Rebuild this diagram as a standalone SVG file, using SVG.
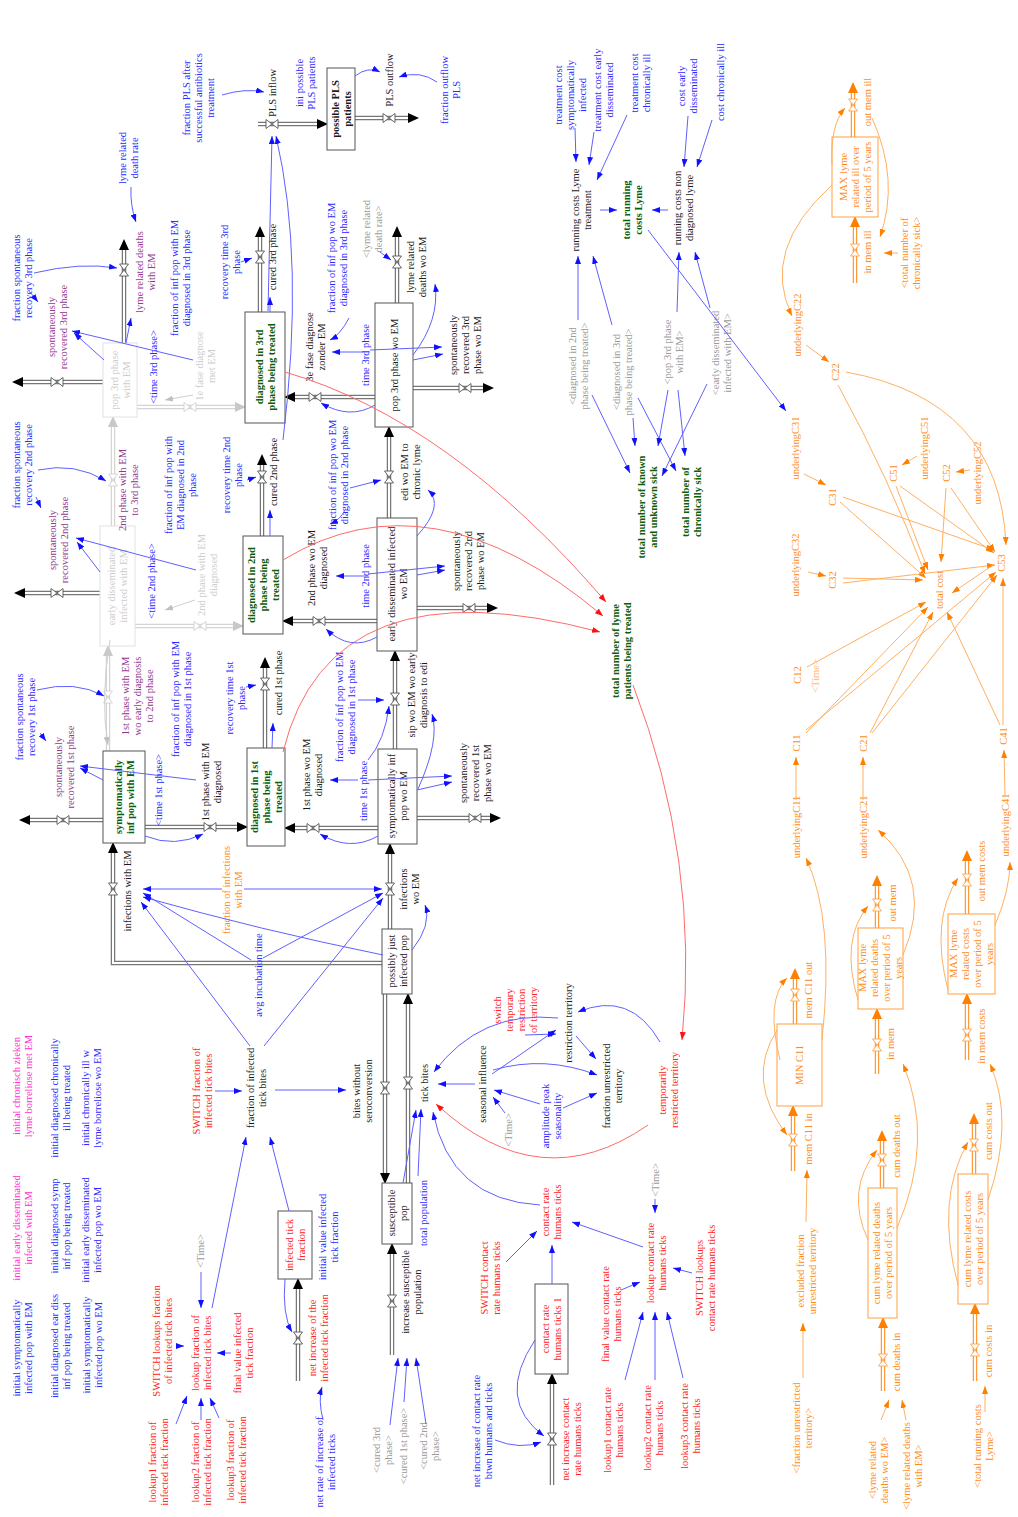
<svg xmlns="http://www.w3.org/2000/svg" xmlns:xlink="http://www.w3.org/1999/xlink" width="1018" height="1517" viewBox="0 0 1018 1517">
<style>
text{font-family:"Liberation Serif","Times New Roman",serif;font-size:10.5px;text-anchor:middle}
.b{fill:#2a2aff}.k{fill:#1a1a1a}.p{fill:#8f3a8f}.m{fill:#ff30d0}.g{fill:#0b5e0b;font-weight:bold}.r{fill:#ff2222}.o{fill:#ff8c1a}.y{fill:#9a9a9a}.l{fill:#cdcdcd}.bd{font-weight:bold}
.box{fill:#fff;stroke:#555;stroke-width:1}
.boxo{fill:#fff;stroke:#ffa040;stroke-width:1}
.boxl{fill:#fff;stroke:#e2e2e2;stroke-width:1}
.cb{fill:none;stroke:#6060ff;stroke-width:1;marker-end:url(#ab)}
.cr{fill:none;stroke:#ff6a6a;stroke-width:1;marker-end:url(#ar)}
.co{fill:none;stroke:#ffb060;stroke-width:1;marker-end:url(#ao)}
.cg{fill:none;stroke:#cfcfcf;stroke-width:1;marker-end:url(#ag)}
.po{fill:none;stroke:#777;stroke-width:4.5}
.pi{fill:none;stroke:#fff;stroke-width:2;marker-end:url(#pa)}
.poo{fill:none;stroke:#ff9a3a;stroke-width:4.5}
.pio{fill:none;stroke:#fff;stroke-width:2;marker-end:url(#pao)}
.pol{fill:none;stroke:#d4d4d4;stroke-width:4.5}
.pil{fill:none;stroke:#fff;stroke-width:2;marker-end:url(#pal)}
</style>
<defs>
<marker id="ab" viewBox="0 0 8 6" refX="8" refY="3" markerWidth="8" markerHeight="6" markerUnits="userSpaceOnUse" orient="auto"><path d="M0,0L8,3L0,6z" fill="#1010ff"/></marker>
<marker id="ar" viewBox="0 0 8 6" refX="8" refY="3" markerWidth="8" markerHeight="6" markerUnits="userSpaceOnUse" orient="auto"><path d="M0,0L8,3L0,6z" fill="#ff1010"/></marker>
<marker id="ao" viewBox="0 0 8 6" refX="8" refY="3" markerWidth="8" markerHeight="6" markerUnits="userSpaceOnUse" orient="auto"><path d="M0,0L8,3L0,6z" fill="#ff8000"/></marker>
<marker id="ag" viewBox="0 0 8 6" refX="8" refY="3" markerWidth="8" markerHeight="6" markerUnits="userSpaceOnUse" orient="auto"><path d="M0,0L8,3L0,6z" fill="#c0c0c0"/></marker>
<marker id="pa" viewBox="0 0 11 10" refX="0" refY="5" markerWidth="11" markerHeight="10" markerUnits="userSpaceOnUse" orient="auto"><path d="M0,0L11,5L0,10z" fill="#000"/></marker>
<marker id="pao" viewBox="0 0 11 10" refX="0" refY="5" markerWidth="11" markerHeight="10" markerUnits="userSpaceOnUse" orient="auto"><path d="M0,0L11,5L0,10z" fill="#ff8000"/></marker>
<marker id="pal" viewBox="0 0 11 10" refX="0" refY="5" markerWidth="11" markerHeight="10" markerUnits="userSpaceOnUse" orient="auto"><path d="M0,0L11,5L0,10z" fill="#c8c8c8"/></marker>
<g id="vv"><path d="M-4.5,-6H4.5L-4.5,6H4.5Z" fill="#fff" stroke="#444" stroke-width="0.8"/></g>
<g id="vh"><path d="M-6,-4.5V4.5L6,-4.5V4.5Z" fill="#fff" stroke="#444" stroke-width="0.8"/></g>
<g id="vvo"><path d="M-4.5,-6H4.5L-4.5,6H4.5Z" fill="#fff" stroke="#ff9a3a" stroke-width="0.8"/></g>
<g id="vvl"><path d="M-4.5,-6H4.5L-4.5,6H4.5Z" fill="#fff" stroke="#ccc" stroke-width="0.8"/></g>
<g id="vhl"><path d="M-6,-4.5V4.5L6,-4.5V4.5Z" fill="#fff" stroke="#ccc" stroke-width="0.8"/></g>
</defs>
<rect width="1018" height="1517" fill="#fff"/>

<g id="pipes">
<path class="po" d="M258,124L317,124"/><path class="pi" d="M258,124L317,124"/>
<path class="po" d="M355,118L408,118"/><path class="pi" d="M355,118L408,118"/>
<path class="po" d="M124,343L124,250"/><path class="pi" d="M124,343L124,250"/>
<path class="po" d="M103,382L23,382"/><path class="pi" d="M103,382L23,382"/>
<path class="po" d="M260,312L260,237"/><path class="pi" d="M260,312L260,237"/>
<path class="po" d="M375,397L295,397"/><path class="pi" d="M375,397L295,397"/>
<path class="po" d="M397,303L397,237"/><path class="pi" d="M397,303L397,237"/>
<path class="po" d="M413,388L483,388"/><path class="pi" d="M413,388L483,388"/>
<path class="po" d="M389,518L389,437"/><path class="pi" d="M389,518L389,437"/>
<path class="pol" d="M137,407L235,407"/><path class="pil" d="M137,407L235,407"/>
<path class="pol" d="M113,526L113,427"/><path class="pil" d="M113,526L113,427"/>
<path class="po" d="M100,593L25,593"/><path class="pi" d="M100,593L25,593"/>
<path class="po" d="M262,536L262,465"/><path class="pi" d="M262,536L262,465"/>
<path class="pol" d="M135,626L233,626"/><path class="pil" d="M135,626L233,626"/>
<path class="po" d="M377,621L293,621"/><path class="pi" d="M377,621L293,621"/>
<path class="po" d="M417,608L487,608"/><path class="pi" d="M417,608L487,608"/>
<path class="po" d="M395,749L395,661"/><path class="pi" d="M395,749L395,661"/>
<path class="pol" d="M108,751L108,656"/><path class="pil" d="M108,751L108,656"/>
<path class="po" d="M103,820L30,820"/><path class="pi" d="M103,820L30,820"/>
<path class="po" d="M265,748L265,668"/><path class="pi" d="M265,748L265,668"/>
<path class="po" d="M145,827L237,827"/><path class="pi" d="M145,827L237,827"/>
<path class="po" d="M378,828L295,828"/><path class="pi" d="M378,828L295,828"/>
<path class="po" d="M417,818L490,818"/><path class="pi" d="M417,818L490,818"/>
<path class="po" d="M383,963L113,963L113,853"/><path class="pi" d="M383,963L113,963L113,853"/>
<path class="po" d="M390,929L390,854"/><path class="pi" d="M390,929L390,854"/>
<path class="po" d="M385,994L385,1173"/><path class="pi" d="M385,994L385,1173"/>
<path class="po" d="M408,1183L408,1004"/><path class="pi" d="M408,1183L408,1004"/>
<path class="po" d="M392,1355L392,1254"/><path class="pi" d="M392,1355L392,1254"/>
<path class="po" d="M298,1381L298,1289"/><path class="pi" d="M298,1381L298,1289"/>
<path class="po" d="M552,1485L552,1384"/><path class="pi" d="M552,1485L552,1384"/>
<path class="poo" d="M855,283L855,227"/><path class="pio" d="M855,283L855,227"/>
<path class="poo" d="M853,137L853,93"/><path class="pio" d="M853,137L853,93"/>
<path class="poo" d="M793,1171L793,1116"/><path class="pio" d="M793,1171L793,1116"/>
<path class="poo" d="M795,1024L795,979"/><path class="pio" d="M795,1024L795,979"/>
<path class="poo" d="M877,1074L877,1019"/><path class="pio" d="M877,1074L877,1019"/>
<path class="poo" d="M877,928L877,886"/><path class="pio" d="M877,928L877,886"/>
<path class="poo" d="M882,1188L882,1141"/><path class="pio" d="M882,1188L882,1141"/>
<path class="poo" d="M883,1391L883,1328"/><path class="pio" d="M883,1391L883,1328"/>
<path class="poo" d="M967,1060L967,1004"/><path class="pio" d="M967,1060L967,1004"/>
<path class="poo" d="M967,914L967,861"/><path class="pio" d="M967,914L967,861"/>
<path class="poo" d="M974,1174L974,1124"/><path class="pio" d="M974,1174L974,1124"/>
<path class="poo" d="M975,1381L975,1314"/><path class="pio" d="M975,1381L975,1314"/>
</g>

<!-- stocks -->
<g id="s-pls"><rect class="box" x="327" y="68" width="28" height="82"/><text class="k bd" transform="translate(341,109) rotate(-90)"><tspan x="0" y="-2">possible PLS</tspan><tspan x="0" y="10">patients</tspan></text></g>
<g id="s-diag3"><rect class="box" x="245" y="312" width="40" height="111"/><text class="g" transform="translate(265,367) rotate(-90)"><tspan x="0" y="-2">diagnosed in 3rd</tspan><tspan x="0" y="10">phase being treated</tspan></text></g>
<g id="s-pop3we"><rect class="boxl" x="103" y="343" width="34" height="74"/><text class="l" transform="translate(120,380) rotate(-90)"><tspan x="0" y="-2">pop 3rd phase</tspan><tspan x="0" y="10">with EM</tspan></text></g>
<g id="s-pop3wo"><rect class="box" x="375" y="303" width="38" height="124"/><text class="k" transform="translate(394,365) rotate(-90)"><tspan x="0" y="4">pop 3rd phase wo EM</tspan></text></g>
<g id="s-edwe"><rect class="boxl" x="100" y="526" width="35" height="120"/><text class="l" transform="translate(117,586) rotate(-90)"><tspan x="0" y="-2">early disseminated</tspan><tspan x="0" y="10">infected with EM</tspan></text></g>
<g id="s-diag2"><rect class="box" x="243" y="536" width="40" height="98"/><text class="g" transform="translate(263,585) rotate(-90)"><tspan x="0" y="-8">diagnosed in 2nd</tspan><tspan x="0" y="4">phase being</tspan><tspan x="0" y="16">treated</tspan></text></g>
<g id="s-edwo"><rect class="box" x="377" y="518" width="40" height="133"/><text class="k" transform="translate(397,584) rotate(-90)"><tspan x="0" y="-2">early disseminated infected</tspan><tspan x="0" y="10">wo EM</tspan></text></g>
<g id="s-sipwe"><rect class="box" x="103" y="751" width="42" height="92"/><text class="g" transform="translate(124,797) rotate(-90)"><tspan x="0" y="-2">symptomatically</tspan><tspan x="0" y="10">inf pop with EM</tspan></text></g>
<g id="s-diag1"><rect class="box" x="247" y="748" width="38" height="98"/><text class="g" transform="translate(266,797) rotate(-90)"><tspan x="0" y="-8">diagnosed in 1st</tspan><tspan x="0" y="4">phase being</tspan><tspan x="0" y="16">treated</tspan></text></g>
<g id="s-sipwo"><rect class="box" x="378" y="749" width="39" height="95"/><text class="k" transform="translate(397,796) rotate(-90)"><tspan x="0" y="-2">symptomatically inf</tspan><tspan x="0" y="10">pop wo EM</tspan></text></g>
<g id="s-pjip"><rect class="box" x="382" y="929" width="30" height="65"/><text class="k" transform="translate(397,961) rotate(-90)"><tspan x="0" y="-2">possibly just</tspan><tspan x="0" y="10">infected pop</tspan></text></g>
<g id="s-susc"><rect class="box" x="382" y="1183" width="30" height="61"/><text class="k" transform="translate(397,1213) rotate(-90)"><tspan x="0" y="-2">susceptible</tspan><tspan x="0" y="10">pop</tspan></text></g>
<g id="s-itf"><rect class="box" x="278" y="1211" width="34" height="68"/><text class="r" transform="translate(295,1245) rotate(-90)"><tspan x="0" y="-2">infected tick</tspan><tspan x="0" y="10">fraction</tspan></text></g>
<g id="s-cr1"><rect class="box" x="535" y="1284" width="33" height="90"/><text class="r" transform="translate(551,1329) rotate(-90)"><tspan x="0" y="-2">contact rate</tspan><tspan x="0" y="10">humans ticks 1</tspan></text></g>
<g id="s-maxill"><rect class="boxo" x="832" y="137" width="46" height="80"/><text class="o" transform="translate(855,177) rotate(-90)"><tspan x="0" y="-8">MAX lyme</tspan><tspan x="0" y="4">related ill over</tspan><tspan x="0" y="16">period of 5 years</tspan></text></g>
<g id="s-maxd"><rect class="boxo" x="858" y="928" width="45" height="81"/><text class="o" transform="translate(880,968) rotate(-90)"><tspan x="0" y="-14">MAX lyme</tspan><tspan x="0" y="-2">related deaths</tspan><tspan x="0" y="10">over period of 5</tspan><tspan x="0" y="22">years</tspan></text></g>
<g id="s-maxc"><rect class="boxo" x="948" y="914" width="47" height="80"/><text class="o" transform="translate(971,954) rotate(-90)"><tspan x="0" y="-14">MAX lyme</tspan><tspan x="0" y="-2">related costs</tspan><tspan x="0" y="10">over period of 5</tspan><tspan x="0" y="22">years</tspan></text></g>
<g id="s-minc11"><rect class="boxo" x="777" y="1024" width="45" height="82"/><text class="o" transform="translate(799,1065) rotate(-90)"><tspan x="0" y="4">MIN C11</tspan></text></g>
<g id="s-cumd"><rect class="boxo" x="868" y="1188" width="29" height="130"/><text class="o" transform="translate(882,1253) rotate(-90)"><tspan x="0" y="-2">cum lyme related deaths</tspan><tspan x="0" y="10">over period of 5 years</tspan></text></g>
<g id="s-cumc"><rect class="boxo" x="958" y="1174" width="30" height="130"/><text class="o" transform="translate(973,1239) rotate(-90)"><tspan x="0" y="-2">cum lyme related costs</tspan><tspan x="0" y="10">over period of 5 years</tspan></text></g>

<!-- flows: valves + labels -->
<g id="f-plsin"><use xlink:href="#vh" x="272" y="124"/><text class="k" transform="translate(272,93) rotate(-90)"><tspan x="0" y="4">PLS inflow</tspan></text></g>
<g id="f-plsout"><use xlink:href="#vh" x="389" y="118"/><text class="k" transform="translate(389,80) rotate(-90)"><tspan x="0" y="4">PLS outflow</tspan></text></g>
<g id="f-ldwe"><use xlink:href="#vv" x="124" y="270"/><text class="p" transform="translate(145,272) rotate(-90)"><tspan x="0" y="-2">lyme related deaths</tspan><tspan x="0" y="10">with EM</tspan></text></g>
<g id="f-sr3"><use xlink:href="#vh" x="57" y="382"/><text class="p" transform="translate(57,327) rotate(-90)"><tspan x="0" y="-2">spontaneously</tspan><tspan x="0" y="10">recovered 3rd phase</tspan></text></g>
<g id="f-1e"><use xlink:href="#vhl" x="190" y="407"/><text class="l" transform="translate(205,366) rotate(-90)"><tspan x="0" y="-2">1e fase diagnose</tspan><tspan x="0" y="10">met EM</tspan></text></g>
<g id="f-c3"><use xlink:href="#vv" x="260" y="257"/><text class="k" transform="translate(272,257) rotate(-90)"><tspan x="0" y="4">cured 3rd phase</tspan></text></g>
<g id="f-3e"><use xlink:href="#vh" x="315" y="397"/><text class="k" transform="translate(315,347) rotate(-90)"><tspan x="0" y="-2">3e fase diagnose</tspan><tspan x="0" y="10">zonder EM</tspan></text></g>
<g id="f-ldwo"><use xlink:href="#vv" x="397" y="262"/><text class="k" transform="translate(416,267) rotate(-90)"><tspan x="0" y="-2">lyme related</tspan><tspan x="0" y="10">deaths wo EM</tspan></text></g>
<g id="f-sr3wo"><use xlink:href="#vh" x="465" y="388"/><text class="k" transform="translate(465,345) rotate(-90)"><tspan x="0" y="-8">spontaneously</tspan><tspan x="0" y="4">recovered 3rd</tspan><tspan x="0" y="16">phase wo EM</tspan></text></g>
<g id="f-edi"><use xlink:href="#vv" x="389" y="477"/><text class="k" transform="translate(410,472) rotate(-90)"><tspan x="0" y="-2">edi wo EM to</tspan><tspan x="0" y="10">chronic lyme</tspan></text></g>
<g id="f-2to3"><use xlink:href="#vvl" x="113" y="480"/><text class="p" transform="translate(128,490) rotate(-90)"><tspan x="0" y="-2">2nd phase with EM</tspan><tspan x="0" y="10">to 3rd phase</tspan></text></g>
<g id="f-sr2"><use xlink:href="#vh" x="57" y="593"/><text class="p" transform="translate(58,540) rotate(-90)"><tspan x="0" y="-2">spontaneously</tspan><tspan x="0" y="10">recovered 2nd phase</tspan></text></g>
<g id="f-c2"><use xlink:href="#vv" x="262" y="477"/><text class="k" transform="translate(273,472) rotate(-90)"><tspan x="0" y="4">cured 2nd phase</tspan></text></g>
<g id="f-2d"><use xlink:href="#vhl" x="200" y="626"/><text class="l" transform="translate(207,575) rotate(-90)"><tspan x="0" y="-2">2nd phase with EM</tspan><tspan x="0" y="10">diagnosed</tspan></text></g>
<g id="f-2wo"><use xlink:href="#vh" x="319" y="621"/><text class="k" transform="translate(317,568) rotate(-90)"><tspan x="0" y="-2">2nd phase wo EM</tspan><tspan x="0" y="10">diagnosed</tspan></text></g>
<g id="f-sr2wo"><use xlink:href="#vh" x="469" y="608"/><text class="k" transform="translate(468,561) rotate(-90)"><tspan x="0" y="-8">spontaneously</tspan><tspan x="0" y="4">recovered 2nd</tspan><tspan x="0" y="16">phase wo EM</tspan></text></g>
<g id="f-sip"><use xlink:href="#vv" x="395" y="699"/><text class="k" transform="translate(417,695) rotate(-90)"><tspan x="0" y="-2">sip wo EM wo early</tspan><tspan x="0" y="10">diagnosis to edi</tspan></text></g>
<g id="f-1to2"><use xlink:href="#vvl" x="108" y="697"/><text class="p" transform="translate(137,696) rotate(-90)"><tspan x="0" y="-8">1st phase with EM</tspan><tspan x="0" y="4">wo early diagnosis</tspan><tspan x="0" y="16">to 2nd phase</tspan></text></g>
<g id="f-sr1"><use xlink:href="#vh" x="63" y="820"/><text class="p" transform="translate(64,767) rotate(-90)"><tspan x="0" y="-2">spontaneously</tspan><tspan x="0" y="10">recovered 1st phase</tspan></text></g>
<g id="f-c1"><use xlink:href="#vv" x="265" y="684"/><text class="k" transform="translate(278,683) rotate(-90)"><tspan x="0" y="4">cured 1st phase</tspan></text></g>
<g id="f-1d"><use xlink:href="#vh" x="210" y="827"/><text class="k" transform="translate(211,782) rotate(-90)"><tspan x="0" y="-2">1st phase with EM</tspan><tspan x="0" y="10">diagnosed</tspan></text></g>
<g id="f-1wo"><use xlink:href="#vh" x="313" y="828"/><text class="k" transform="translate(312,775) rotate(-90)"><tspan x="0" y="-2">1st phase wo EM</tspan><tspan x="0" y="10">diagnosed</tspan></text></g>
<g id="f-sr1wo"><use xlink:href="#vh" x="475" y="818"/><text class="k" transform="translate(475,773) rotate(-90)"><tspan x="0" y="-8">spontaneously</tspan><tspan x="0" y="4">recovered 1st</tspan><tspan x="0" y="16">phase wo EM</tspan></text></g>
<g id="f-iwe"><use xlink:href="#vv" x="113" y="889"/><text class="k" transform="translate(127,891) rotate(-90)"><tspan x="0" y="4">infections with EM</tspan></text></g>
<g id="f-iwo"><use xlink:href="#vv" x="390" y="889"/><text class="k" transform="translate(409,889) rotate(-90)"><tspan x="0" y="-2">infections</tspan><tspan x="0" y="10">wo EM</tspan></text></g>
<g id="f-bws"><use xlink:href="#vv" x="385" y="1088"/><text class="k" transform="translate(362,1091) rotate(-90)"><tspan x="0" y="-2">bites without</tspan><tspan x="0" y="10">seroconversion</tspan></text></g>
<g id="f-tb"><use xlink:href="#vv" x="408" y="1083"/><text class="k" transform="translate(424,1083) rotate(-90)"><tspan x="0" y="4">tick bites</tspan></text></g>
<g id="f-isp"><use xlink:href="#vv" x="392" y="1301"/><text class="k" transform="translate(411,1292) rotate(-90)"><tspan x="0" y="-2">increase susceptible</tspan><tspan x="0" y="10">population</tspan></text></g>
<g id="f-nitf"><use xlink:href="#vv" x="298" y="1338"/><text class="r" transform="translate(318,1338) rotate(-90)"><tspan x="0" y="-2">net increase of the</tspan><tspan x="0" y="10">infected tick fraction</tspan></text></g>
<g id="f-nicr"><use xlink:href="#vv" x="552" y="1439"/><text class="r" transform="translate(571,1439) rotate(-90)"><tspan x="0" y="-2">net increase contact</tspan><tspan x="0" y="10">rate humans ticks</tspan></text></g>
<g id="f-imi"><use xlink:href="#vvo" x="855" y="250"/><text class="o" transform="translate(867,252) rotate(-90)"><tspan x="0" y="4">in mem ill</tspan></text></g>
<g id="f-omi"><use xlink:href="#vvo" x="853" y="105"/><text class="o" transform="translate(867,102) rotate(-90)"><tspan x="0" y="4">out mem ill</tspan></text></g>
<g id="f-mci"><use xlink:href="#vvo" x="793" y="1140"/><text class="o" transform="translate(808,1139) rotate(-90)"><tspan x="0" y="4">mem C11 in</tspan></text></g>
<g id="f-mco"><use xlink:href="#vvo" x="795" y="995"/><text class="o" transform="translate(808,990) rotate(-90)"><tspan x="0" y="4">mem C11 out</tspan></text></g>
<g id="f-im"><use xlink:href="#vvo" x="877" y="1045"/><text class="o" transform="translate(890,1044) rotate(-90)"><tspan x="0" y="4">in mem</tspan></text></g>
<g id="f-om"><use xlink:href="#vvo" x="877" y="905"/><text class="o" transform="translate(892,903) rotate(-90)"><tspan x="0" y="4">out mem</tspan></text></g>
<g id="f-cdo"><use xlink:href="#vvo" x="882" y="1160"/><text class="o" transform="translate(896,1146) rotate(-90)"><tspan x="0" y="4">cum deaths out</tspan></text></g>
<g id="f-cdi"><use xlink:href="#vvo" x="883" y="1360"/><text class="o" transform="translate(896,1362) rotate(-90)"><tspan x="0" y="4">cum deaths in</tspan></text></g>
<g id="f-imc"><use xlink:href="#vvo" x="967" y="1035"/><text class="o" transform="translate(981,1036) rotate(-90)"><tspan x="0" y="4">in mem costs</tspan></text></g>
<g id="f-omc"><use xlink:href="#vvo" x="967" y="880"/><text class="o" transform="translate(981,871) rotate(-90)"><tspan x="0" y="4">out mem costs</tspan></text></g>
<g id="f-cco"><use xlink:href="#vvo" x="974" y="1145"/><text class="o" transform="translate(988,1131) rotate(-90)"><tspan x="0" y="4">cum costs out</tspan></text></g>
<g id="f-cci"><use xlink:href="#vvo" x="975" y="1350"/><text class="o" transform="translate(988,1351) rotate(-90)"><tspan x="0" y="4">cum costs in</tspan></text></g>

<!-- auxiliaries -->
<g id="n-fplsa"><text class="b" transform="translate(198,98) rotate(-90)"><tspan x="0" y="-8">fraction PLS after</tspan><tspan x="0" y="4">successful antibiotics</tspan><tspan x="0" y="16">treatment</tspan></text></g>
<g id="n-inipls"><text class="b" transform="translate(305,83) rotate(-90)"><tspan x="0" y="-2">ini possible</tspan><tspan x="0" y="10">PLS patients</tspan></text></g>
<g id="n-fopls"><text class="b" transform="translate(450,90) rotate(-90)"><tspan x="0" y="-2">fraction outflow</tspan><tspan x="0" y="10">PLS</tspan></text></g>
<g id="n-lrdr"><text class="b" transform="translate(128,158) rotate(-90)"><tspan x="0" y="-2">lyme related</tspan><tspan x="0" y="10">death rate</tspan></text></g>
<g id="n-fsr3"><text class="b" transform="translate(22,278) rotate(-90)"><tspan x="0" y="-2">fraction spontaneous</tspan><tspan x="0" y="10">recovery 3rd phase</tspan></text></g>
<g id="n-t3p"><text class="b" transform="translate(153,367) rotate(-90)"><tspan x="0" y="4">&lt;time 3rd phase&gt;</tspan></text></g>
<g id="n-fipe3"><text class="b" transform="translate(180,278) rotate(-90)"><tspan x="0" y="-2">fraction of inf pop with EM</tspan><tspan x="0" y="10">diagnosed in 3rd phase</tspan></text></g>
<g id="n-rt3"><text class="b" transform="translate(230,262) rotate(-90)"><tspan x="0" y="-2">recovery time 3rd</tspan><tspan x="0" y="10">phase</tspan></text></g>
<g id="n-fipw3"><text class="b" transform="translate(337,258) rotate(-90)"><tspan x="0" y="-2">fraction of inf pop wo EM</tspan><tspan x="0" y="10">diagnosed in 3rd phase</tspan></text></g>
<g id="n-lrdrg"><text class="y" transform="translate(372,229) rotate(-90)"><tspan x="0" y="-2">&lt;lyme related</tspan><tspan x="0" y="10">death rate&gt;</tspan></text></g>
<g id="n-time3"><text class="b" transform="translate(365,355) rotate(-90)"><tspan x="0" y="4">time 3rd phase</tspan></text></g>
<g id="n-tcsi"><text class="b" transform="translate(570,95) rotate(-90)"><tspan x="0" y="-8">treatment cost</tspan><tspan x="0" y="4">symptomatically</tspan><tspan x="0" y="16">infected</tspan></text></g>
<g id="n-tced"><text class="b" transform="translate(603,90) rotate(-90)"><tspan x="0" y="-2">treatment cost early</tspan><tspan x="0" y="10">disseminated</tspan></text></g>
<g id="n-tcci"><text class="b" transform="translate(640,83) rotate(-90)"><tspan x="0" y="-2">treatment cost</tspan><tspan x="0" y="10">chronically ill</tspan></text></g>
<g id="n-rclt"><text class="k" transform="translate(581,210) rotate(-90)"><tspan x="0" y="-2">running costs Lyme</tspan><tspan x="0" y="10">treatment</tspan></text></g>
<g id="n-trcl"><text class="g" transform="translate(632,210) rotate(-90)"><tspan x="0" y="-2">total running</tspan><tspan x="0" y="10">costs Lyme</tspan></text></g>
<g id="n-rcnd"><text class="k" transform="translate(683,208) rotate(-90)"><tspan x="0" y="-2">running costs non</tspan><tspan x="0" y="10">diagnosed lyme</tspan></text></g>
<g id="n-ced"><text class="b" transform="translate(687,86) rotate(-90)"><tspan x="0" y="-2">cost early</tspan><tspan x="0" y="10">disseminated</tspan></text></g>
<g id="n-cci"><text class="b" transform="translate(720,82) rotate(-90)"><tspan x="0" y="4">cost chronically ill</tspan></text></g>
<g id="n-d2g"><text class="y" transform="translate(578,366) rotate(-90)"><tspan x="0" y="-2">&lt;diagnosed in 2nd</tspan><tspan x="0" y="10">phase being treated&gt;</tspan></text></g>
<g id="n-d3g"><text class="y" transform="translate(622,372) rotate(-90)"><tspan x="0" y="-2">&lt;diagnosed in 3rd</tspan><tspan x="0" y="10">phase being treated&gt;</tspan></text></g>
<g id="n-p3g"><text class="y" transform="translate(673,352) rotate(-90)"><tspan x="0" y="-2">&lt;pop 3rd phase</tspan><tspan x="0" y="10">with EM&gt;</tspan></text></g>
<g id="n-edg"><text class="y" transform="translate(721,353) rotate(-90)"><tspan x="0" y="-2">&lt;early disseminated</tspan><tspan x="0" y="10">infected with EM&gt;</tspan></text></g>
<g id="n-tkus"><text class="g" transform="translate(647,507) rotate(-90)"><tspan x="0" y="-2">total number of known</tspan><tspan x="0" y="10">and unknown sick</tspan></text></g>
<g id="n-tcs"><text class="g" transform="translate(691,502) rotate(-90)"><tspan x="0" y="-2">total number of</tspan><tspan x="0" y="10">chronically sick</tspan></text></g>
<g id="n-tlpt"><text class="g" transform="translate(621,651) rotate(-90)"><tspan x="0" y="-2">total number of lyme</tspan><tspan x="0" y="10">patients being treated</tspan></text></g>
<g id="n-fsr2"><text class="b" transform="translate(22,465) rotate(-90)"><tspan x="0" y="-2">fraction spontaneous</tspan><tspan x="0" y="10">recovery 2nd phase</tspan></text></g>
<g id="n-t2p"><text class="b" transform="translate(151,581) rotate(-90)"><tspan x="0" y="4">&lt;time 2nd phase&gt;</tspan></text></g>
<g id="n-fipe2"><text class="b" transform="translate(180,485) rotate(-90)"><tspan x="0" y="-8">fraction of inf pop with</tspan><tspan x="0" y="4">EM diagnosed in 2nd</tspan><tspan x="0" y="16">phase</tspan></text></g>
<g id="n-rt2"><text class="b" transform="translate(232,475) rotate(-90)"><tspan x="0" y="-2">recovery time 2nd</tspan><tspan x="0" y="10">phase</tspan></text></g>
<g id="n-fipw2"><text class="b" transform="translate(338,475) rotate(-90)"><tspan x="0" y="-2">fraction of inf pop wo EM</tspan><tspan x="0" y="10">diagnosed in 2nd phase</tspan></text></g>
<g id="n-time2"><text class="b" transform="translate(365,576) rotate(-90)"><tspan x="0" y="4">time 2nd phase</tspan></text></g>
<g id="n-fsr1"><text class="b" transform="translate(25,717) rotate(-90)"><tspan x="0" y="-2">fraction spontaneous</tspan><tspan x="0" y="10">recovery 1st phase</tspan></text></g>
<g id="n-t1p"><text class="b" transform="translate(158,790) rotate(-90)"><tspan x="0" y="4">&lt;time 1st phase&gt;</tspan></text></g>
<g id="n-fipe1"><text class="b" transform="translate(181,699) rotate(-90)"><tspan x="0" y="-2">fraction of inf pop with EM</tspan><tspan x="0" y="10">diagnosed in 1st phase</tspan></text></g>
<g id="n-rt1"><text class="b" transform="translate(235,698) rotate(-90)"><tspan x="0" y="-2">recovery time 1st</tspan><tspan x="0" y="10">phase</tspan></text></g>
<g id="n-fipw1"><text class="b" transform="translate(345,707) rotate(-90)"><tspan x="0" y="-2">fraction of inf pop wo EM</tspan><tspan x="0" y="10">diagnosed in 1st phase</tspan></text></g>
<g id="n-time1"><text class="b" transform="translate(363,791) rotate(-90)"><tspan x="0" y="4">time 1st phase</tspan></text></g>
<g id="n-fiwe"><text class="o" transform="translate(232,890) rotate(-90)"><tspan x="0" y="-2">fraction of infections</tspan><tspan x="0" y="10">with EM</tspan></text></g>
<g id="n-ait"><text class="b" transform="translate(258,975) rotate(-90)"><tspan x="0" y="4">avg incubation time</tspan></text></g>
<g id="n-sfitb"><text class="r" transform="translate(202,1091) rotate(-90)"><tspan x="0" y="-2">SWITCH fraction of</tspan><tspan x="0" y="10">infected tick bites</tspan></text></g>
<g id="n-fitb"><text class="k" transform="translate(256,1088) rotate(-90)"><tspan x="0" y="-2">fraction of infected</tspan><tspan x="0" y="10">tick bites</tspan></text></g>
<g id="n-si"><text class="k" transform="translate(482,1084) rotate(-90)"><tspan x="0" y="4">seasonal influence</tspan></text></g>
<g id="n-time-a"><text class="y" transform="translate(508,1130) rotate(-90)"><tspan x="0" y="4">&lt;Time&gt;</tspan></text></g>
<g id="n-aps"><text class="b" transform="translate(551,1116) rotate(-90)"><tspan x="0" y="-2">amplitude peak</tspan><tspan x="0" y="10">seasonality</tspan></text></g>
<g id="n-sttr"><text class="r" transform="translate(515,1010) rotate(-90)"><tspan x="0" y="-14">switch</tspan><tspan x="0" y="-2">temporary</tspan><tspan x="0" y="10">restriction</tspan><tspan x="0" y="22">of territory</tspan></text></g>
<g id="n-rt"><text class="k" transform="translate(568,1023) rotate(-90)"><tspan x="0" y="4">restriction territory</tspan></text></g>
<g id="n-fut"><text class="k" transform="translate(612,1086) rotate(-90)"><tspan x="0" y="-2">fraction unrestricted</tspan><tspan x="0" y="10">territory</tspan></text></g>
<g id="n-trt"><text class="r" transform="translate(668,1090) rotate(-90)"><tspan x="0" y="-2">temporarily</tspan><tspan x="0" y="10">restricted territory</tspan></text></g>
<g id="n-tp"><text class="b" transform="translate(423,1213) rotate(-90)"><tspan x="0" y="4">total population</tspan></text></g>
<g id="n-c3g"><text class="y" transform="translate(382,1450) rotate(-90)"><tspan x="0" y="-2">&lt;cured 3rd</tspan><tspan x="0" y="10">phase&gt;</tspan></text></g>
<g id="n-c1g"><text class="y" transform="translate(403,1446) rotate(-90)"><tspan x="0" y="4">&lt;cured 1st phase&gt;</tspan></text></g>
<g id="n-c2g"><text class="y" transform="translate(429,1446) rotate(-90)"><tspan x="0" y="-2">&lt;cured 2nd</tspan><tspan x="0" y="10">phase&gt;</tspan></text></g>
<g id="n-nrii"><text class="b" transform="translate(325,1462) rotate(-90)"><tspan x="0" y="-2">net rate of increase of</tspan><tspan x="0" y="10">infected ticks</tspan></text></g>
<g id="n-ivitf"><text class="b" transform="translate(328,1237) rotate(-90)"><tspan x="0" y="-2">initial value infected</tspan><tspan x="0" y="10">tick fraction</tspan></text></g>
<g id="n-scr"><text class="r" transform="translate(490,1278) rotate(-90)"><tspan x="0" y="-2">SWITCH contact</tspan><tspan x="0" y="10">rate humans ticks</tspan></text></g>
<g id="n-crht"><text class="r" transform="translate(551,1212) rotate(-90)"><tspan x="0" y="-2">contact rate</tspan><tspan x="0" y="10">humans ticks</tspan></text></g>
<g id="n-nicrb"><text class="b" transform="translate(482,1431) rotate(-90)"><tspan x="0" y="-2">net increase of contact rate</tspan><tspan x="0" y="10">btwn humans and ticks</tspan></text></g>
<g id="n-fvcr"><text class="r" transform="translate(611,1314) rotate(-90)"><tspan x="0" y="-2">final value contact rate</tspan><tspan x="0" y="10">humans ticks</tspan></text></g>
<g id="n-l1cr"><text class="r" transform="translate(613,1430) rotate(-90)"><tspan x="0" y="-2">lookup1 contact rate</tspan><tspan x="0" y="10">humans ticks</tspan></text></g>
<g id="n-l2cr"><text class="r" transform="translate(653,1428) rotate(-90)"><tspan x="0" y="-2">lookup2 contact rate</tspan><tspan x="0" y="10">humans ticks</tspan></text></g>
<g id="n-l3cr"><text class="r" transform="translate(690,1426) rotate(-90)"><tspan x="0" y="-2">lookup3 contact rate</tspan><tspan x="0" y="10">humans ticks</tspan></text></g>
<g id="n-lcr"><text class="r" transform="translate(656,1263) rotate(-90)"><tspan x="0" y="-2">lookup contact rate</tspan><tspan x="0" y="10">humans ticks</tspan></text></g>
<g id="n-time-b"><text class="y" transform="translate(655,1180) rotate(-90)"><tspan x="0" y="4">&lt;Time&gt;</tspan></text></g>
<g id="n-slcr"><text class="r" transform="translate(705,1278) rotate(-90)"><tspan x="0" y="-2">SWITCH lookups</tspan><tspan x="0" y="10">contact rate humans ticks</tspan></text></g>
<g id="n-i1"><text class="m" transform="translate(22,1086) rotate(-90)"><tspan x="0" y="-2">initial chronisch zieken</tspan><tspan x="0" y="10">lyme borreliose met EM</tspan></text></g>
<g id="n-i2"><text class="b" transform="translate(60,1098) rotate(-90)"><tspan x="0" y="-2">initial diagnosed chronically</tspan><tspan x="0" y="10">ill being treated</tspan></text></g>
<g id="n-i3"><text class="b" transform="translate(91,1098) rotate(-90)"><tspan x="0" y="-2">initial chronically ill w</tspan><tspan x="0" y="10">lyme borreliose wo EM</tspan></text></g>
<g id="n-i4"><text class="m" transform="translate(22,1228) rotate(-90)"><tspan x="0" y="-2">initial early disseminated</tspan><tspan x="0" y="10">infected with EM</tspan></text></g>
<g id="n-i5"><text class="b" transform="translate(60,1226) rotate(-90)"><tspan x="0" y="-2">initial diagnosed symp</tspan><tspan x="0" y="10">inf pop being treated</tspan></text></g>
<g id="n-i6"><text class="b" transform="translate(91,1230) rotate(-90)"><tspan x="0" y="-2">initial early disseminated</tspan><tspan x="0" y="10">infected pop wo EM</tspan></text></g>
<g id="n-i7"><text class="b" transform="translate(22,1348) rotate(-90)"><tspan x="0" y="-2">initial symptomatically</tspan><tspan x="0" y="10">infected pop with EM</tspan></text></g>
<g id="n-i8"><text class="b" transform="translate(60,1346) rotate(-90)"><tspan x="0" y="-2">initial diagnosed ear diss</tspan><tspan x="0" y="10">inf pop being treated</tspan></text></g>
<g id="n-i9"><text class="b" transform="translate(92,1345) rotate(-90)"><tspan x="0" y="-2">initial symptomatically</tspan><tspan x="0" y="10">infected pop wo EM</tspan></text></g>
<g id="n-slfitb"><text class="r" transform="translate(162,1341) rotate(-90)"><tspan x="0" y="-2">SWITCH lookups fraction</tspan><tspan x="0" y="10">of infected tick bites</tspan></text></g>
<g id="n-lfitb"><text class="r" transform="translate(201,1353) rotate(-90)"><tspan x="0" y="-2">lookup fraction of</tspan><tspan x="0" y="10">infected tick bites</tspan></text></g>
<g id="n-fvitf"><text class="r" transform="translate(243,1353) rotate(-90)"><tspan x="0" y="-2">final value infected</tspan><tspan x="0" y="10">tick fraction</tspan></text></g>
<g id="n-time-c"><text class="y" transform="translate(200,1251) rotate(-90)"><tspan x="0" y="4">&lt;Time&gt;</tspan></text></g>
<g id="n-l1f"><text class="r" transform="translate(158,1462) rotate(-90)"><tspan x="0" y="-2">lookup1 fraction of</tspan><tspan x="0" y="10">infected tick fraction</tspan></text></g>
<g id="n-l2f"><text class="r" transform="translate(201,1462) rotate(-90)"><tspan x="0" y="-2">lookup2 fraction of</tspan><tspan x="0" y="10">infected tick fraction</tspan></text></g>
<g id="n-l3f"><text class="r" transform="translate(236,1460) rotate(-90)"><tspan x="0" y="-2">lookup3 fraction of</tspan><tspan x="0" y="10">infected tick fraction</tspan></text></g>
<g id="n-tcsg"><text class="o" transform="translate(910,253) rotate(-90)"><tspan x="0" y="-2">&lt;total number of</tspan><tspan x="0" y="10">chronically sick&gt;</tspan></text></g>
<g id="n-u22"><text class="o" transform="translate(797,325) rotate(-90)"><tspan x="0" y="4">underlyingC22</tspan></text></g>
<g id="n-c22"><text class="o" transform="translate(835,372) rotate(-90)"><tspan x="0" y="4">C22</tspan></text></g>
<g id="n-u31"><text class="o" transform="translate(795,448) rotate(-90)"><tspan x="0" y="4">underlyingC31</tspan></text></g>
<g id="n-c31"><text class="o" transform="translate(832,497) rotate(-90)"><tspan x="0" y="4">C31</tspan></text></g>
<g id="n-c51"><text class="o" transform="translate(893,473) rotate(-90)"><tspan x="0" y="4">C51</tspan></text></g>
<g id="n-u51"><text class="o" transform="translate(924,448) rotate(-90)"><tspan x="0" y="4">underlyingC51</tspan></text></g>
<g id="n-c52"><text class="o" transform="translate(946,473) rotate(-90)"><tspan x="0" y="4">C52</tspan></text></g>
<g id="n-u52"><text class="o" transform="translate(977,473) rotate(-90)"><tspan x="0" y="4">underlyingC52</tspan></text></g>
<g id="n-u32"><text class="o" transform="translate(795,565) rotate(-90)"><tspan x="0" y="4">underlyingC32</tspan></text></g>
<g id="n-c32"><text class="o" transform="translate(832,580) rotate(-90)"><tspan x="0" y="4">C32</tspan></text></g>
<g id="n-tc"><text class="o" transform="translate(939,590) rotate(-90)"><tspan x="0" y="4">total cost</tspan></text></g>
<g id="n-c53"><text class="o" transform="translate(1001,563) rotate(-90)"><tspan x="0" y="4">C53</tspan></text></g>
<g id="n-c12"><text class="o" transform="translate(797,675) rotate(-90)"><tspan x="0" y="4">C12</tspan></text></g>
<g id="n-timeo"><text class="o" opacity="0.6" transform="translate(815,676) rotate(-90)"><tspan x="0" y="4">&lt;Time&gt;</tspan></text></g>
<g id="n-c11"><text class="o" transform="translate(796,743) rotate(-90)"><tspan x="0" y="4">C11</tspan></text></g>
<g id="n-u11"><text class="o" transform="translate(796,827) rotate(-90)"><tspan x="0" y="4">underlyingC11</tspan></text></g>
<g id="n-c21"><text class="o" transform="translate(863,743) rotate(-90)"><tspan x="0" y="4">C21</tspan></text></g>
<g id="n-u21"><text class="o" transform="translate(863,827) rotate(-90)"><tspan x="0" y="4">underlyingC21</tspan></text></g>
<g id="n-c41"><text class="o" transform="translate(1003,736) rotate(-90)"><tspan x="0" y="4">C41</tspan></text></g>
<g id="n-u41"><text class="o" transform="translate(1005,825) rotate(-90)"><tspan x="0" y="4">underlyingC41</tspan></text></g>
<g id="n-efut"><text class="o" transform="translate(806,1271) rotate(-90)"><tspan x="0" y="-2">excluded fraction</tspan><tspan x="0" y="10">unrestricted territory</tspan></text></g>
<g id="n-futg"><text class="o" transform="translate(802,1428) rotate(-90)"><tspan x="0" y="-2">&lt;fraction unrestricted</tspan><tspan x="0" y="10">territory&gt;</tspan></text></g>
<g id="n-ldwog"><text class="o" transform="translate(878,1470) rotate(-90)"><tspan x="0" y="-2">&lt;lyme related</tspan><tspan x="0" y="10">deaths wo EM&gt;</tspan></text></g>
<g id="n-ldweg"><text class="o" transform="translate(912,1466) rotate(-90)"><tspan x="0" y="-2">&lt;lyme related deaths</tspan><tspan x="0" y="10">with EM&gt;</tspan></text></g>
<g id="n-trclg"><text class="o" transform="translate(983,1446) rotate(-90)"><tspan x="0" y="-2">&lt;total running costs</tspan><tspan x="0" y="10">Lyme&gt;</tspan></text></g>

<g id="connectors">
<path class="cb" d="M222,95Q245,88 264,92"/>
<path class="cb" d="M268,311L272,136"/>
<path class="cb" d="M283,440Q305,260 276,136"/>
<path class="cb" d="M355,76Q368,66 380,72"/>
<path class="cb" d="M437,82Q420,70 399,77"/>
<path class="cb" d="M131,187Q130,205 136,222"/>
<path class="cb" d="M34,273Q80,262 117,268"/>
<path class="cb" d="M30,292L38,302"/>
<path class="cb" d="M126,343L131,318"/>
<path class="cb" d="M104,360L74,333"/>
<path class="cb" d="M193,360L72,331"/>
<path class="cb" d="M241,262L252,258"/>
<path class="cb" d="M270,312L270,297"/>
<path class="cb" d="M349,318Q340,335 330,340"/>
<path class="cb" d="M375,405Q350,420 321,403"/>
<path class="cb" d="M370,352L332,352"/>
<path class="cb" d="M370,350L442,347"/>
<path class="cb" d="M413,360L443,354"/>
<path class="cb" d="M413,355Q440,320 435,284"/>
<path class="cb" d="M380,252L391,260"/>
<path class="cb" d="M575,128L576,162"/>
<path class="cb" d="M594,132L589,165"/>
<path class="cb" d="M627,115L597,180"/>
<path class="cb" d="M600,210L617,210"/>
<path class="cb" d="M668,210L652,210"/>
<path class="cb" d="M688,116L684,167"/>
<path class="cb" d="M712,120L697,167"/>
<path class="cb" d="M578,320L578,256"/>
<path class="cb" d="M612,325L593,256"/>
<path class="cb" d="M677,312L679,252"/>
<path class="cb" d="M710,308L695,252"/>
<path class="cb" d="M648,230L786,411"/>
<path class="cb" d="M592,395L630,473"/>
<path class="cb" d="M633,418L635,446"/>
<path class="cb" d="M638,398L676,471"/>
<path class="cb" d="M668,390L658,446"/>
<path class="cb" d="M678,390L685,456"/>
<path class="cb" d="M707,384L662,476"/>
<path class="cr" d="M285,372Q450,420 606,602"/>
<path class="cr" d="M283,560Q430,470 603,616"/>
<path class="cr" d="M283,752Q330,560 600,632"/>
<path class="cr" d="M633,685Q700,860 682,1040"/>
<path class="cr" d="M648,1125Q540,1200 436,1104"/>
<path class="cb" d="M475,1084L438,1084"/>
<path class="cb" d="M505,1113L493,1097"/>
<path class="cb" d="M540,1104L494,1090"/>
<path class="cb" d="M492,1074L556,1030"/>
<path class="cb" d="M493,1070Q545,1055 597,1075"/>
<path class="cb" d="M563,1108L597,1093"/>
<path class="cb" d="M576,1036L596,1059"/>
<path class="cb" d="M660,1042Q630,990 578,1012"/>
<path class="cb" d="M525,1035L556,1034"/>
<path class="cb" d="M558,1018Q480,1010 434,1072"/>
<path class="cb" d="M540,1205Q450,1200 433,1112"/>
<path class="cb" d="M418,1176L421,1109"/>
<path class="cb" d="M403,1183L416,1110"/>
<path class="cb" d="M506,1262L537,1231"/>
<path class="cb" d="M552,1284L552,1245"/>
<path class="cb" d="M643,1247L572,1222"/>
<path class="cb" d="M621,1290L640,1282"/>
<path class="cb" d="M625,1380L643,1312"/>
<path class="cb" d="M655,1380L655,1312"/>
<path class="cb" d="M683,1378L667,1312"/>
<path class="cb" d="M655,1199L655,1213"/>
<path class="cb" d="M692,1273L673,1268"/>
<path class="cb" d="M535,1340Q495,1400 544,1436"/>
<path class="cb" d="M495,1440Q520,1450 541,1442"/>
<path class="cb" d="M215,1091L242,1091"/>
<path class="cb" d="M212,1308L246,1137"/>
<path class="cb" d="M289,1211L270,1137"/>
<path class="cb" d="M275,1090L346,1090"/>
<path class="cb" d="M250,1046L141,902"/>
<path class="cb" d="M264,1046L383,898"/>
<path class="cb" d="M251,960L143,893"/>
<path class="cb" d="M263,958L383,893"/>
<path class="cb" d="M222,889L143,889"/>
<path class="cb" d="M244,889L382,889"/>
<path class="cb" d="M383,955Q260,930 143,897"/>
<path class="cb" d="M412,950Q432,925 425,905"/>
<path class="cb" d="M285,1279Q282,1315 292,1332"/>
<path class="cb" d="M323,1420Q318,1400 322,1387"/>
<path class="cb" d="M176,1424L187,1396"/>
<path class="cb" d="M201,1420L201,1398"/>
<path class="cb" d="M219,1418L210,1398"/>
<path class="cb" d="M176,1346L184,1346"/>
<path class="cb" d="M231,1353L217,1353"/>
<path class="cb" d="M201,1272L201,1308"/>
<path class="cb" d="M390,1425L398,1358"/>
<path class="cb" d="M404,1402L407,1358"/>
<path class="cb" d="M426,1424L416,1358"/>
<path class="cb" d="M38,470Q75,462 106,481"/>
<path class="cb" d="M36,497L41,508"/>
<path class="cb" d="M100,572L77,542"/>
<path class="cb" d="M196,570L76,538"/>
<path class="cb" d="M247,480L256,477"/>
<path class="cb" d="M270,536L270,510"/>
<path class="cb" d="M345,510Q340,520 330,524"/>
<path class="cb" d="M377,637Q350,652 326,629"/>
<path class="cb" d="M368,576L336,576"/>
<path class="cb" d="M368,574L445,566"/>
<path class="cb" d="M417,575L445,570"/>
<path class="cb" d="M417,536Q445,505 428,490"/>
<path class="cb" d="M350,488L381,480"/>
<path class="cb" d="M37,690Q75,680 104,696"/>
<path class="cb" d="M40,733L46,741"/>
<path class="cb" d="M103,780L80,768"/>
<path class="cb" d="M196,780L80,766"/>
<path class="cb" d="M145,836Q175,848 203,834"/>
<path class="cb" d="M246,687L256,685"/>
<path class="cb" d="M272,748L273,723"/>
<path class="cb" d="M378,836Q350,852 320,834"/>
<path class="cb" d="M358,780L330,780"/>
<path class="cb" d="M368,780L452,776"/>
<path class="cb" d="M417,790L452,782"/>
<path class="cb" d="M418,789Q440,740 432,714"/>
<path class="cb" d="M358,700L384,700"/>
<path class="cb" d="M368,760Q385,740 389,706"/>
<path class="cg" d="M193,395L165,400"/>
<path class="cg" d="M195,600L165,610"/>
<path class="cg" d="M110,640Q100,700 108,745"/>
<path class="co" d="M832,165Q830,125 845,108"/>
<path class="co" d="M872,118Q900,180 880,237"/>
<path class="co" d="M898,253L884,253"/>
<path class="co" d="M832,185Q760,250 792,316"/>
<path class="co" d="M806,345L829,362"/>
<path class="co" d="M846,372Q1000,400 1006,545"/>
<path class="co" d="M838,385Q890,480 925,574"/>
<path class="co" d="M804,474L826,485"/>
<path class="co" d="M840,502L926,578"/>
<path class="co" d="M843,497L994,550"/>
<path class="co" d="M896,486L928,570"/>
<path class="co" d="M917,456L902,465"/>
<path class="co" d="M900,486L994,553"/>
<path class="co" d="M946,488L941,562"/>
<path class="co" d="M970,470L956,472"/>
<path class="co" d="M951,488L995,552"/>
<path class="co" d="M808,572L826,576"/>
<path class="co" d="M843,578L923,580"/>
<path class="co" d="M843,583L995,565"/>
<path class="co" d="M993,565L952,593"/>
<path class="co" d="M807,667L926,602"/>
<path class="co" d="M806,733L928,607"/>
<path class="co" d="M806,730L996,572"/>
<path class="co" d="M870,733L933,612"/>
<path class="co" d="M872,733L997,575"/>
<path class="co" d="M1000,725L947,612"/>
<path class="co" d="M1003,725L1003,578"/>
<path class="co" d="M796,800L796,757"/>
<path class="co" d="M863,800L863,757"/>
<path class="co" d="M1005,796L1004,750"/>
<path class="co" d="M822,1040Q835,920 806,858"/>
<path class="co" d="M903,955Q935,880 878,830"/>
<path class="co" d="M995,925Q1010,890 1010,862"/>
<path class="co" d="M858,1000Q840,940 868,906"/>
<path class="co" d="M948,990Q930,920 958,878"/>
<path class="co" d="M780,1060Q765,1000 787,978"/>
<path class="co" d="M777,1030Q745,1080 787,1135"/>
<path class="co" d="M806,1222L807,1170"/>
<path class="co" d="M803,1378L803,1323"/>
<path class="co" d="M897,1228Q935,1140 903,1064"/>
<path class="co" d="M868,1240Q845,1190 877,1150"/>
<path class="co" d="M881,1420L889,1400"/>
<path class="co" d="M906,1420L902,1400"/>
<path class="co" d="M988,1200Q1015,1120 990,1064"/>
<path class="co" d="M958,1285Q935,1200 968,1142"/>
<path class="co" d="M985,1412L985,1386"/>
</g>
</svg>
